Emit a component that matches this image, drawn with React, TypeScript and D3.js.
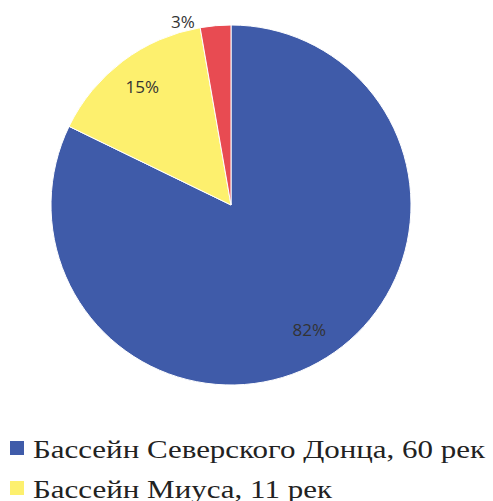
import React from 'react';
import * as d3 from 'd3';

const categories = ['Бассейн Северского Донца, 60 рек', 'Бассейн Миуса, 11 рек', 'Прочие, 2 рек'];
const values = [60, 11, 2];
const percentLabels = ['82%', '15%', '3%'];
const colors = ['#3F5BA9', '#FDF06E', '#E84B52'];
// only the first two legend rows fit in the frame of the reference
const legendShown = 2;
const legendWidths = [452, 299];

export default function App() {
  const width = 493;
  const height = 501;
  const cx = 231;
  const cy = 205;
  const radius = 180;

  const slices = d3.pie<number>().value(d => d).sort(null)(values);
  const arcGen = d3.arc<d3.PieArcDatum<number>>().innerRadius(0).outerRadius(radius);

  // label radii: inside for big slices, outside for the small one
  const labelPos = (d: d3.PieArcDatum<number>, i: number) => {
    const mid = (d.startAngle + d.endAngle) / 2;
    const r = i === 2 ? radius * 1.05 : radius * 0.82;
    return [Math.sin(mid) * r, -Math.cos(mid) * r];
  };

  return (
    <svg width={width} height={height} style={{ position: 'absolute', left: 0, top: 0, background: '#fff' }}>
      <g transform={`translate(${cx},${cy})`}>
        {slices.map((d, i) => (
          <path key={i} d={arcGen(d) || ''} fill={colors[i]} stroke="#fff" strokeWidth={1} />
        ))}
        {slices.map((d, i) => {
          const [x, y] = labelPos(d, i);
          return (
            <text
              key={i}
              x={x + (i === 2 ? -20 : 0)}
              y={y + (i === 2 ? 5 : 0)}
              textAnchor={i === 2 ? 'end' : 'middle'}
              dy="0.35em"
              fontFamily="'Open Sans', 'Liberation Sans', sans-serif"
              fontSize={17}
              fill="#333"
            >
              {percentLabels[i]}
            </text>
          );
        })}
      </g>
      <g>
        {categories.slice(0, legendShown).map((c, i) => (
          <g key={c} transform={`translate(10,${441 + i * 40})`}>
            <rect width={14} height={14} fill={colors[i]} />
            <text
              x={23}
              y={17}
              textLength={legendWidths[i]}
              lengthAdjust="spacingAndGlyphs"
              fontFamily="'Times New Roman', 'Liberation Serif', serif"
              fontSize={26}
              fill="#222"
            >
              {c}
            </text>
          </g>
        ))}
      </g>
    </svg>
  );
}
